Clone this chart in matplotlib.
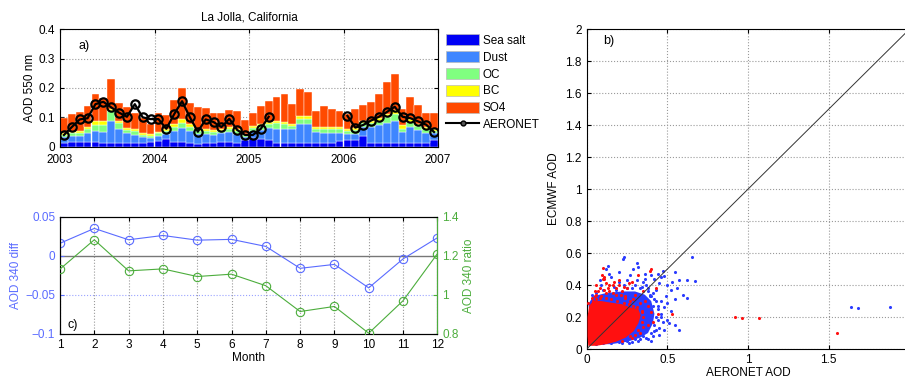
import numpy as np
import matplotlib
matplotlib.use("Agg")
import matplotlib.pyplot as plt
from matplotlib.patches import Patch
from matplotlib.lines import Line2D

plt.rcParams['font.family'] = ['Liberation Sans', 'DejaVu Sans']
plt.rcParams['font.size'] = 8.5

# ---------------- Panel a data (monthly, 2003-2006) ----------------
years = [2003, 2004, 2005, 2006]
sea_salt = [0.014,0.016,0.015,0.017,0.016,0.014,0.012,0.012,0.011,0.011,0.014,0.017,
            0.019,0.025,0.017,0.015,0.011,0.009,0.011,0.011,0.017,0.017,0.014,0.023,
            0.030,0.025,0.023,0.014,0.011,0.011,0.014,0.014,0.011,0.011,0.014,0.018,
            0.023,0.023,0.036,0.014,0.014,0.011,0.014,0.011,0.014,0.011,0.011,0.023]
dust = [0.018,0.020,0.021,0.028,0.037,0.037,0.076,0.050,0.034,0.029,0.018,0.013,
        0.017,0.018,0.036,0.050,0.041,0.034,0.032,0.029,0.028,0.034,0.029,0.009,
        0.025,0.032,0.042,0.048,0.051,0.048,0.063,0.063,0.040,0.037,0.034,0.030,
        0.020,0.020,0.032,0.054,0.060,0.071,0.075,0.040,0.054,0.046,0.037,0.022]
oc = [0.008,0.009,0.012,0.014,0.020,0.022,0.034,0.018,0.012,0.013,0.009,0.008,
      0.009,0.012,0.015,0.017,0.016,0.010,0.010,0.011,0.010,0.011,0.010,0.007,
      0.010,0.013,0.012,0.018,0.015,0.011,0.016,0.016,0.008,0.011,0.011,0.011,
      0.010,0.014,0.012,0.012,0.015,0.018,0.022,0.011,0.017,0.013,0.011,0.010]
bc = [0.006,0.006,0.007,0.009,0.016,0.016,0.006,0.008,0.008,0.008,0.007,0.006,
      0.006,0.005,0.008,0.011,0.008,0.007,0.007,0.006,0.007,0.006,0.007,0.004,
      0.005,0.007,0.007,0.008,0.008,0.007,0.012,0.012,0.007,0.007,0.007,0.007,
      0.006,0.007,0.006,0.006,0.008,0.010,0.014,0.011,0.008,0.007,0.007,0.006]
so4 = [0.053,0.059,0.062,0.071,0.091,0.076,0.102,0.062,0.069,0.054,0.049,0.033,
       0.063,0.048,0.084,0.107,0.074,0.074,0.073,0.059,0.054,0.057,0.060,0.047,
       0.044,0.063,0.072,0.082,0.095,0.068,0.090,0.080,0.057,0.073,0.061,0.056,
       0.052,0.063,0.056,0.066,0.081,0.112,0.122,0.057,0.075,0.064,0.048,0.055]
aeronet = [0.040,0.067,0.093,0.097,0.145,0.153,0.134,0.116,0.102,0.145,0.100,0.094,
           0.094,0.061,0.111,0.155,0.100,0.051,0.093,0.084,0.067,0.095,0.057,0.040,
           0.040,0.061,0.102,np.nan,np.nan,np.nan,np.nan,np.nan,np.nan,np.nan,np.nan,np.nan,
           0.105,0.065,0.074,0.089,0.102,0.118,0.136,0.102,0.097,0.086,0.075,0.050]

# ---------------- Panel c data ----------------
months = [1, 2, 3, 4, 5, 6, 7, 8, 9, 10, 11, 12]
aod340_diff = [0.016, 0.035, 0.0205, 0.026, 0.020, 0.021, 0.012, -0.016, -0.011, -0.041, -0.004, 0.023]
aod340_ratio = [1.132, 1.282, 1.123, 1.133, 1.094, 1.106, 1.047, 0.915, 0.941, 0.804, 0.970, 1.21]

# ---------------- Panel b data ----------------
blue_x = [0.23,0.225,0.65,0.31,0.32,0.29,0.47,0.44,0.40,0.42,0.46,0.48,0.55,0.57,0.62,0.67,
          0.53,0.50,0.45,0.52,0.56,0.60,0.62,0.49,0.43,0.46,0.50,0.55,0.48,0.52,0.44,0.46,
          0.50,0.55,0.57,0.51,0.42,0.45,0.40,0.35,0.30,0.25,0.20,0.15,0.10,0.06,1.64,1.68,
          1.88,0.12,0.13,0.09,0.15,0.20,0.27,0.35,0.38,0.36,0.30,0.25,0.18,0.43,0.41,0.39,
          0.44,0.37,0.33,0.28,0.22,0.34,0.42,0.40,0.38,
          0.43,0.44,0.42,0.41,0.39,0.37,0.33,0.28,0.23,0.17,0.10,0.06,0.03,0.43,0.41,0.38,
          0.32,0.26,0.46,0.47,0.45,0.48,0.40,0.36,0.31,0.25,0.20,0.14,0.08]
blue_y = [0.577,0.56,0.577,0.535,0.515,0.50,0.49,0.47,0.46,0.44,0.45,0.455,0.48,0.43,0.43,0.425,
          0.42,0.40,0.41,0.37,0.38,0.34,0.32,0.33,0.37,0.30,0.29,0.31,0.26,0.24,0.25,0.20,
          0.18,0.15,0.12,0.16,0.15,0.13,0.10,0.08,0.06,0.05,0.045,0.04,0.035,0.03,0.265,0.258,
          0.262,0.50,0.52,0.40,0.45,0.42,0.46,0.42,0.38,0.47,0.40,0.38,0.37,0.30,0.27,0.34,
          0.18,0.07,0.06,0.045,0.04,0.39,0.11,0.33,0.36,
          0.20,0.27,0.31,0.35,0.33,0.40,0.38,0.38,0.40,0.39,0.37,0.35,0.34,0.12,0.08,0.06,
          0.05,0.04,0.22,0.17,0.09,0.12,0.05,0.44,0.43,0.43,0.48,0.47,0.43]
red_x = [0.10,0.11,0.095,0.105,0.17,0.13,0.07,0.05,0.14,0.20,0.25,0.30,0.32,0.28,0.22,0.18,
         0.36,0.38,0.40,0.41,0.38,0.33,0.30,0.02,0.015,0.92,0.96,1.07,1.55,0.53,0.27,0.04,
         0.08,0.35,0.44,0.43,0.39,0.10,0.40,0.26,0.06,0.12,0.16,0.24,0.34,0.03,0.35,
         0.03,0.06,0.09,0.12,0.15,0.19,0.23,0.26,0.29,0.31,0.34,0.35,0.34,0.32,0.28,0.22,
         0.01,0.05,0.08,0.11,0.14,0.18,0.21,0.24,0.27,0.16,0.12,0.20,0.06,0.29,0.23,0.33]
red_y = [0.44,0.435,0.46,0.452,0.42,0.38,0.36,0.33,0.40,0.40,0.38,0.34,0.46,0.42,0.36,0.34,
         0.30,0.27,0.23,0.17,0.15,0.10,0.09,0.25,0.22,0.20,0.195,0.197,0.10,0.22,0.08,0.30,
         0.32,0.36,0.22,0.38,0.49,0.505,0.50,0.41,0.31,0.35,0.35,0.33,0.23,0.27,0.14,
         0.32,0.34,0.33,0.32,0.31,0.30,0.29,0.28,0.27,0.26,0.24,0.20,0.17,0.12,0.07,0.05,
         0.29,0.36,0.38,0.37,0.36,0.38,0.34,0.32,0.30,0.40,0.41,0.43,0.40,0.31,0.39,0.29]
# envelopes of the dense cores of the two point clouds
blue_core_x = [0.05,0.15,0.25,0.33,0.38,0.41,0.42,0.40,0.36,0.30,0.22,0.12,0.04,0.01]
blue_core_y = [0.03,0.03,0.045,0.07,0.10,0.16,0.22,0.30,0.34,0.36,0.36,0.35,0.33,0.28]
red_core_x = [0.01,0.06,0.12,0.18,0.24,0.29,0.32,0.335,0.32,0.27,0.22,0.15,0.09,0.04,0.015,0.005,0.005]
red_core_y = [0.02,0.02,0.03,0.045,0.07,0.11,0.16,0.21,0.25,0.26,0.28,0.29,0.30,0.30,0.27,0.20,0.08]

# ---------------- Figure ----------------
W, H = 905, 378
fig = plt.figure(figsize=(W/100, H/100), dpi=100)

def fx(p): return p / W
def fy(p): return 1 - p / H

col_ss, col_dust, col_oc, col_bc, col_so4 = '#0000f5', '#3f86ff', '#80ff80', '#ffff00', '#ff4a00'

# Panel a
axa = fig.add_axes([fx(60), fy(146.7), fx(438) - fx(60), fy(29.3) - fy(146.7)])
n = len(sea_salt)
xpos = np.array([years[0] + (i + 0.5) / 12 for i in range(n)])
bottom = np.zeros(n)
for vals, col in [(sea_salt, col_ss), (dust, col_dust), (oc, col_oc), (bc, col_bc), (so4, col_so4)]:
    axa.bar(xpos, vals, width=1/12, bottom=bottom, color=col, edgecolor='white', linewidth=0.3, zorder=2)
    bottom = bottom + np.array(vals)
axa.plot(xpos, aeronet, color='black', lw=1.6, marker='o', ms=6, mfc='none', mec='black', mew=1.6, zorder=4)
axa.set_xlim(2003, 2007)
axa.set_ylim(0, 0.4)
axa.set_xticks([2003, 2004, 2005, 2006, 2007])
axa.set_yticks([0, 0.1, 0.2, 0.3, 0.4])
axa.set_yticklabels(['0', '0.1', '0.2', '0.3', '0.4'])
axa.grid(True, linestyle=':', color='#9a9a9a', lw=0.8, zorder=0)
axa.set_axisbelow(True)
axa.tick_params(direction='in', top=True, right=True, length=3)
axa.tick_params(axis='x', pad=5)
axa.set_ylabel('AOD 550 nm', labelpad=2)
axa.set_title('La Jolla, California', fontsize=8.5, pad=6)
axa.text(0.05, 0.83, 'a)', transform=axa.transAxes, fontsize=9)

handles = [Patch(facecolor=col_ss, edgecolor='#bbbbbb', lw=0.5, label='Sea salt'),
           Patch(facecolor=col_dust, edgecolor='#bbbbbb', lw=0.5, label='Dust'),
           Patch(facecolor=col_oc, edgecolor='#bbbbbb', lw=0.5, label='OC'),
           Patch(facecolor=col_bc, edgecolor='#bbbbbb', lw=0.5, label='BC'),
           Patch(facecolor=col_so4, edgecolor='#bbbbbb', lw=0.5, label='SO4'),
           Line2D([], [], color='black', lw=1.5, marker='o', ms=3.5, mfc='#555555', mec='black', label='AERONET')]
fig.legend(handles=handles, loc='upper left', bbox_to_anchor=(fx(446), fy(34)), frameon=False,
           handlelength=2.8, handleheight=1.1, handletextpad=0.3, labelspacing=0.36, borderpad=0, borderaxespad=0)

# Panel c
axc = fig.add_axes([fx(60), fy(334), fx(437.3) - fx(60), fy(216.7) - fy(334)])
blue_c = '#5a6bff'
green_c = '#4cad3c'
axc.plot(months, aod340_diff, color=blue_c, lw=0.8, marker='o', ms=6, mfc='none', mec=blue_c, mew=0.8, zorder=3)
axc.set_xlim(1, 12)
axc.set_ylim(-0.1, 0.05)
axc.set_xticks(months)
axc.set_yticks([-0.1, -0.05, 0, 0.05])
axc.set_yticklabels(['\u22120.1', '\u22120.05', '0', '0.05'])
axc.tick_params(axis='y', colors=blue_c, direction='in', length=3)
axc.tick_params(axis='x', direction='in', top=True, length=3)
axc.xaxis.grid(True, linestyle=':', color='#9a9a9a', lw=0.8)
axc.axhline(0, color='#777777', lw=1.0, zorder=1)
axc.axhline(-0.05, color='#9aa3ff', lw=0.8, linestyle=':', zorder=1)
axc.set_ylabel('AOD 340 diff', color=blue_c, labelpad=2)
axc.set_xlabel('Month', labelpad=1)
axc.text(0.02, 0.05, 'c)', transform=axc.transAxes, fontsize=9)
axr = axc.twinx()
axr.plot(months, aod340_ratio, color=green_c, lw=0.8, marker='o', ms=6, mfc='none', mec=green_c, mew=0.8, zorder=3)
axr.set_ylim(0.8, 1.4)
axr.set_yticks([0.8, 1.0, 1.2, 1.4])
axr.set_yticklabels(['0.8', '1', '1.2', '1.4'])
axr.tick_params(axis='y', colors=green_c, direction='in', length=3)
axr.spines['right'].set_color(green_c)
axr.set_ylabel('AOD 340 ratio', color=green_c, labelpad=3)

# Panel b
axb = fig.add_axes([fx(586.7), fy(349), fx(909.3) - fx(586.7), fy(29.3) - fy(349)])
axb.fill(blue_core_x, blue_core_y, color='#2b3cff', lw=0, zorder=2)
axb.scatter(blue_x, blue_y, s=5, color='#2b3cff', lw=0, zorder=2)
axb.fill(red_core_x, red_core_y, color='#ff1010', lw=0, zorder=3)
axb.scatter(red_x, red_y, s=5, color='#ff1010', lw=0, zorder=3)
axb.plot([0, 2], [0, 2], color='#333333', lw=0.7, zorder=4)
axb.set_xlim(0, 2)
axb.set_ylim(0, 2)
axb.set_xticks([0, 0.5, 1, 1.5, 2])
axb.set_xticklabels(['0', '0.5', '1', '1.5', ''])
axb.set_yticks(np.arange(0, 2.01, 0.2))
axb.set_yticklabels(['0', '0.2', '0.4', '0.6', '0.8', '1', '1.2', '1.4', '1.6', '1.8', '2'])
axb.grid(True, linestyle=':', color='#9a9a9a', lw=0.8)
axb.set_axisbelow(True)
axb.tick_params(direction='in', top=True, right=True, length=3)
axb.set_xlabel('AERONET AOD', labelpad=1)
axb.set_ylabel('ECMWF AOD', labelpad=4)
axb.text(0.05, 0.955, 'b)', transform=axb.transAxes, fontsize=9)

fig.savefig('out.png', dpi=100)
